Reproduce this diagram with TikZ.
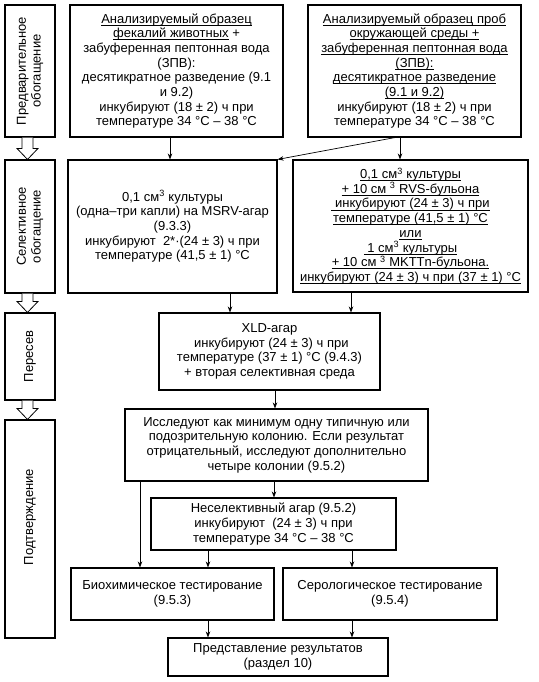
\documentclass[tikz,border=0pt]{standalone}
\usepackage{fontspec}
\setmainfont{Liberation Sans}
\usetikzlibrary{arrows.meta,calc}
\newcommand\myul[1]{\setbox0\hbox{#1}\rlap{\rule[-2.3pt]{\wd0}{0.7pt}}\box0\relax}
\begin{document}
\begin{tikzpicture}[x=1pt,y=-1pt,
  box/.style={draw, line width=1.1pt, align=center, inner sep=0pt,
    font=\fontsize{13}{14.7}\selectfont},
  stagebox/.style={draw, line width=1.1pt, inner sep=0pt, minimum width=50pt},
  stagetext/.style={rotate=90, align=center, inner sep=0pt,
    font=\fontsize{13}{14.7}\selectfont},
  conn/.style={line width=0.7pt, -{Stealth[length=6pt,width=4.5pt]}},
  hollow/.style={line width=0.8pt, fill=white},
]
\useasboundingbox (0,0) rectangle (538,682);

% stage boxes
\node[stagebox, minimum height=132pt] (L1) at (30,71) {};
\node[stagetext] (L1t) at (L1.center) {Предварительное\\обогащение};
\node[stagebox, minimum height=133pt] (L2) at (30,226.5) {};
\node[stagetext] (L2t) at (L2.center) {Селективное\\обогащение};
\node[stagebox, minimum height=87pt] (L3) at (30,356.5) {};
\node[stagetext] (L3t) at (L3.center) {Пересев};
\node[stagebox, minimum height=218pt] (L4) at (30,529) {};
\node[stagetext] (L4t) at (30,517) {Подтверждение};

% hollow arrows
\foreach \u/\v in {L1/L2, L2/L3, L3/L4}{
  \draw[hollow] ($(\u.south)+(-8,0)$) |- ($(\v.north)+(-13,-11)$)
    -- ($(\v.north)+(-2.5,0)$) -- ($(\v.north)+(8,-11)$) -| ($(\u.south)+(3,0)$);
}

% main boxes
\node[box, minimum width=213pt, minimum height=132pt] (A) at (176.5,71)
  {\myul{Анализируемый образец}\\
   \myul{фекалий животных} +\\
   забуференная пептонная вода\\
   (ЗПВ):\\
   десятикратное разведение (9.1\\
   и 9.2)\\
   инкубируют (18 ± 2) ч при\\
   температуре 34 °С – 38 °С};
\node[box, minimum width=213pt, minimum height=132pt] (B) at (414.5,71)
  {\myul{Анализируемый образец проб}\\
   \myul{окружающей среды +}\\
   \myul{забуференная пептонная вода}\\
   \myul{(ЗПВ):}\\
   \myul{десятикратное разведение}\\
   \myul{(9.1 и 9.2)}\\
   инкубируют (18 ± 2) ч при\\
   температуре 34 °С – 38 °С};
\node[box, minimum width=209pt, minimum height=133pt] (C) at (172.5,226.5)
  {0,1 см\textsuperscript{3} культуры\\
   (одна–три капли) на MSRV-агар\\
   (9.3.3)\\
   инкубируют\ \ 2*·(24 ± 3) ч при\\
   температуре (41,5 ± 1) °С};
\node[box, minimum width=235pt, minimum height=132pt] (D) at (410.5,226)
  {\myul{0,1 см\textsuperscript{3} культуры}\\
   \myul{+ 10 см \textsuperscript{3} RVS-бульона}\\
   \myul{\ инкубируют (24 ± 3) ч при}\\
   \myul{температуре (41,5 ± 1) °С}\\
   \myul{или}\\
   \myul{\ 1 см\textsuperscript{3} культуры}\\
   \myul{+ 10 см \textsuperscript{3} MKTTn-бульона.}\\
   \myul{инкубируют (24 ± 3) ч при (37 ± 1) °С}};
\node[box, minimum width=221pt, minimum height=77pt] (E) at (269.5,351.5)
  {XLD-агар\\
   \ инкубируют (24 ± 3) ч при\\
   температуре (37 ± 1) °С (9.4.3)\\
   + вторая селективная среда};
\node[box, minimum width=303pt, minimum height=72pt] (F) at (276.5,445)
  {Исследуют как минимум одну типичную или\\
   подозрительную колонию. Если результат\\
   отрицательный, исследуют дополнительно\\
   четыре колонии (9.5.2)};
\node[box, minimum width=245pt, minimum height=52pt] (G) at (273.5,524)
  {Неселективный агар (9.5.2)\\
   инкубируют\ \ (24 ± 3) ч при\\
   температуре 34 °С – 38 °С};
\node[box, minimum width=203pt, minimum height=52pt] (H) at (172.5,594)
  {Биохимическое тестирование\\(9.5.3)};
\node[box, minimum width=214pt, minimum height=52pt] (I) at (390,594)
  {Серологическое тестирование\\(9.5.4)};
\node[box, minimum width=220pt, minimum height=38pt] (J) at (278,657)
  {Представление результатов\\(раздел 10)};

% connectors
\draw[conn] (170,0 |- A.south) -- (170,0 |- C.north);
\draw[conn] (400,0 |- B.south) -- (400,0 |- D.north);
\draw[conn] (395,0 |- B.south) -- (C.north east);
\draw[conn] (230,0 |- C.south) -- (230,0 |- E.north);
\draw[conn] (351,0 |- D.south) -- (351,0 |- E.north);
\draw[conn] (275,0 |- E.south) -- (275,0 |- F.north);
\draw[conn] (274,0 |- F.south) -- (274,0 |- G.north);
\draw[conn] (140,0 |- F.south) -- (140,0 |- H.north);
\draw[conn] (208,0 |- G.south) -- (208,0 |- H.north);
\draw[conn] (352,0 |- G.south) -- (352,0 |- I.north);
\draw[conn] (208,0 |- H.south) -- (208,0 |- J.north);
\draw[conn] (352,0 |- I.south) -- (352,0 |- J.north);
\end{tikzpicture}
\end{document}
